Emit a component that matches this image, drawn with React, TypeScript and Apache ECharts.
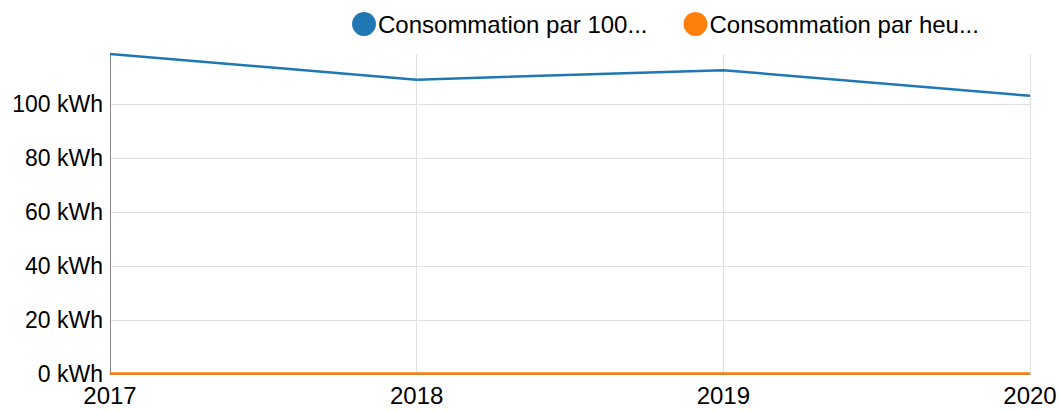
import React, { useEffect, useRef } from "react";
import * as echarts from "echarts";

const categories = ["2017", "2018", "2019", "2020"];
const seriesNames = ["Consommation par 100 km", "Consommation par heure"];
const per100km = [118.5, 109, 112.5, 103];
const perHour = [0.2, 0.2, 0.2, 0.2];
const yTicks = [0, 20, 40, 60, 80, 100];

export default function App() {
  const ref = useRef<HTMLDivElement>(null);
  useEffect(() => {
    document.body.style.margin = "0";
    const chart = echarts.init(ref.current!, null, { renderer: "svg" });
    const font = "Liberation Sans, Arial, sans-serif";
    chart.setOption({
      animation: false,
      color: ["#1f77b4", "#ff7f0e"],
      legend: {
        top: 7,
        left: 347,
        icon: "circle",
        itemWidth: 24,
        itemHeight: 24,
        itemGap: 36,
        textStyle: { fontSize: 24, color: "#000", fontFamily: font, padding: [0, 0, 0, -3] },
        formatter: (name: string) => (name.length > 20 ? name.slice(0, 20) + "..." : name),
      },
      grid: { left: 110, right: 30, top: 54, bottom: 36, containLabel: false },
      xAxis: {
        type: "category",
        data: categories,
        boundaryGap: false,
        axisLine: { show: true, lineStyle: { color: "#888" } },
        axisTick: { show: false },
        axisLabel: { fontSize: 24, color: "#000", fontFamily: font, margin: 9 },
        splitLine: { show: true, lineStyle: { color: "#e0e0e0", width: 1 } },
      },
      yAxis: {
        type: "value",
        min: 0,
        max: "dataMax",
        interval: 20,
        axisLine: { show: true, lineStyle: { color: "#888" } },
        axisTick: { show: false },
        axisLabel: {
          fontSize: 23,
          color: "#000",
          fontFamily: font,
          margin: 7,
          showMaxLabel: false,
          formatter: (v: number) => (yTicks.includes(v) ? v + " kWh" : ""),
        },
        splitLine: {
          show: true,
          lineStyle: {
            color: ["#e0e0e0", "#e0e0e0", "#e0e0e0", "#e0e0e0", "#e0e0e0", "#e0e0e0", "rgba(0,0,0,0)"],
            width: 1,
          },
        },
      },
      series: [
        {
          name: seriesNames[0],
          type: "line",
          data: per100km,
          showSymbol: false,
          symbol: "none",
          lineStyle: { width: 2.5 },
        },
        {
          name: seriesNames[1],
          type: "line",
          data: perHour,
          showSymbol: false,
          symbol: "none",
          lineStyle: { width: 2.5 },
        },
      ],
    });
    return () => chart.dispose();
  }, []);
  return <div ref={ref} style={{ width: 1060, height: 410 }} />;
}
